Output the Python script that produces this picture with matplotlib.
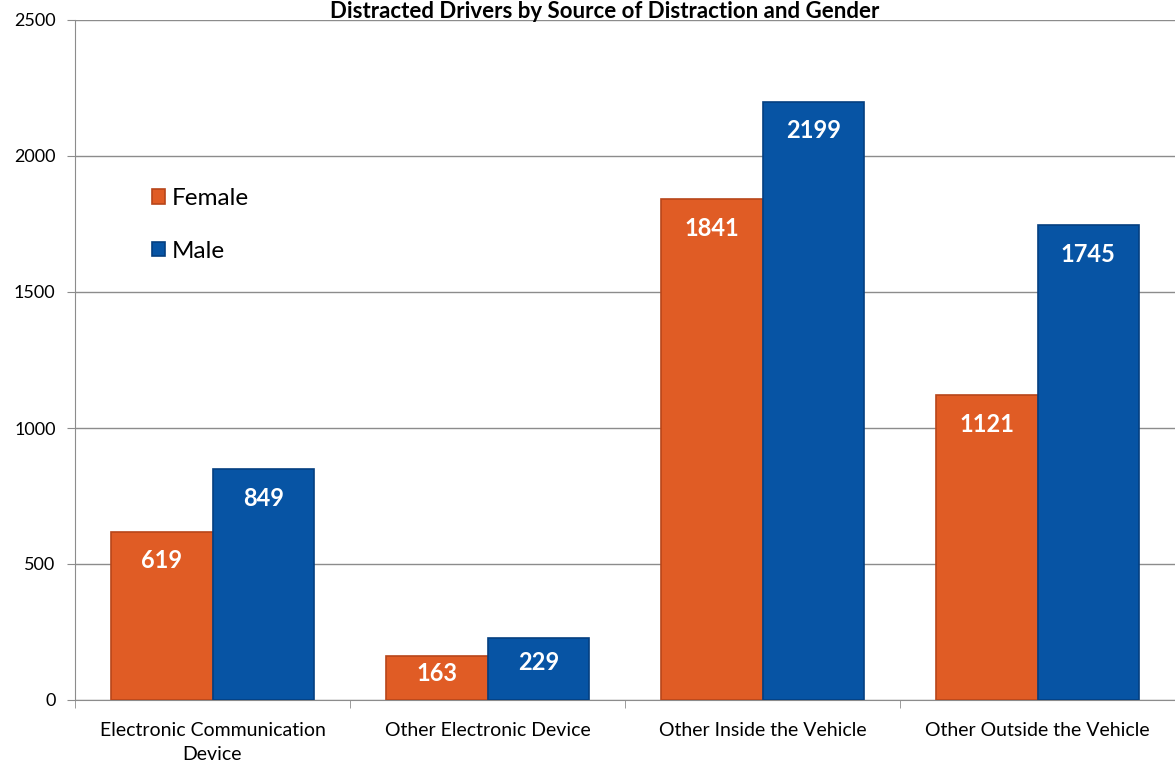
import numpy as np
import matplotlib
matplotlib.use('Agg')
import matplotlib.pyplot as plt

plt.rcParams['font.family'] = ['Lato', 'DejaVu Sans']

categories = ['Electronic Communication\nDevice', 'Other Electronic Device',
              'Other Inside the Vehicle', 'Other Outside the Vehicle']
female = [619, 163, 1841, 1121]
male = [849, 229, 2199, 1745]
series = ['Female', 'Male']
colors = ['#E05C25', '#0754A4']
edges = ['#B8461A', '#043F80']

fig = plt.figure(figsize=(11.75, 7.63), dpi=100)
ax = fig.add_axes([75/1175, 1 - 700/763, 1 - 75/1175, 680/763])

x = np.arange(len(categories))
w = 0.37
for i, (vals, name) in enumerate(zip([female, male], series)):
    pos = x + (i - 0.5) * w
    ax.bar(pos, vals, w, color=colors[i], edgecolor=edges[i], linewidth=1.2,
           label=name, zorder=3)
    for p, v in zip(pos, vals):
        ty = max(v - 107, v * 0.6)
        ax.text(p, ty, str(v), ha='center', va='center', color='white',
                fontsize=17, fontweight='bold', zorder=4)

ax.set_xlim(-0.5, len(categories) - 0.5)
ax.set_ylim(0, 2500)
ax.set_yticks(np.arange(0, 2501, 500))
ax.yaxis.grid(True, color='#8c8c8c', linewidth=1, zorder=0)
ax.set_xticks(x)
ax.set_xticklabels(categories, fontsize=14, linespacing=1.5)
ax.set_xticks(np.arange(-0.5, len(categories)), minor=True)
ax.tick_params(axis='x', which='major', length=0, pad=16)
ax.tick_params(axis='x', which='minor', length=6, color='#8c8c8c', direction='out')
ax.tick_params(axis='y', length=6, color='#8c8c8c', labelsize=13, pad=8)
for s in ['top', 'right']:
    ax.spines[s].set_visible(False)
for s in ['left', 'bottom']:
    ax.spines[s].set_color('#8c8c8c')

ax.legend(loc='upper left', bbox_to_anchor=(0.05, 0.785), frameon=False,
          fontsize=17.5, handlelength=0.55, handleheight=0.55, handletextpad=0.25,
          labelspacing=1.3)

fig.text(0.515, 0.999, 'Distracted Drivers by Source of Distraction and Gender',
         ha='center', va='top', fontsize=16, fontweight='bold')

fig.savefig('out.png', dpi=100)
